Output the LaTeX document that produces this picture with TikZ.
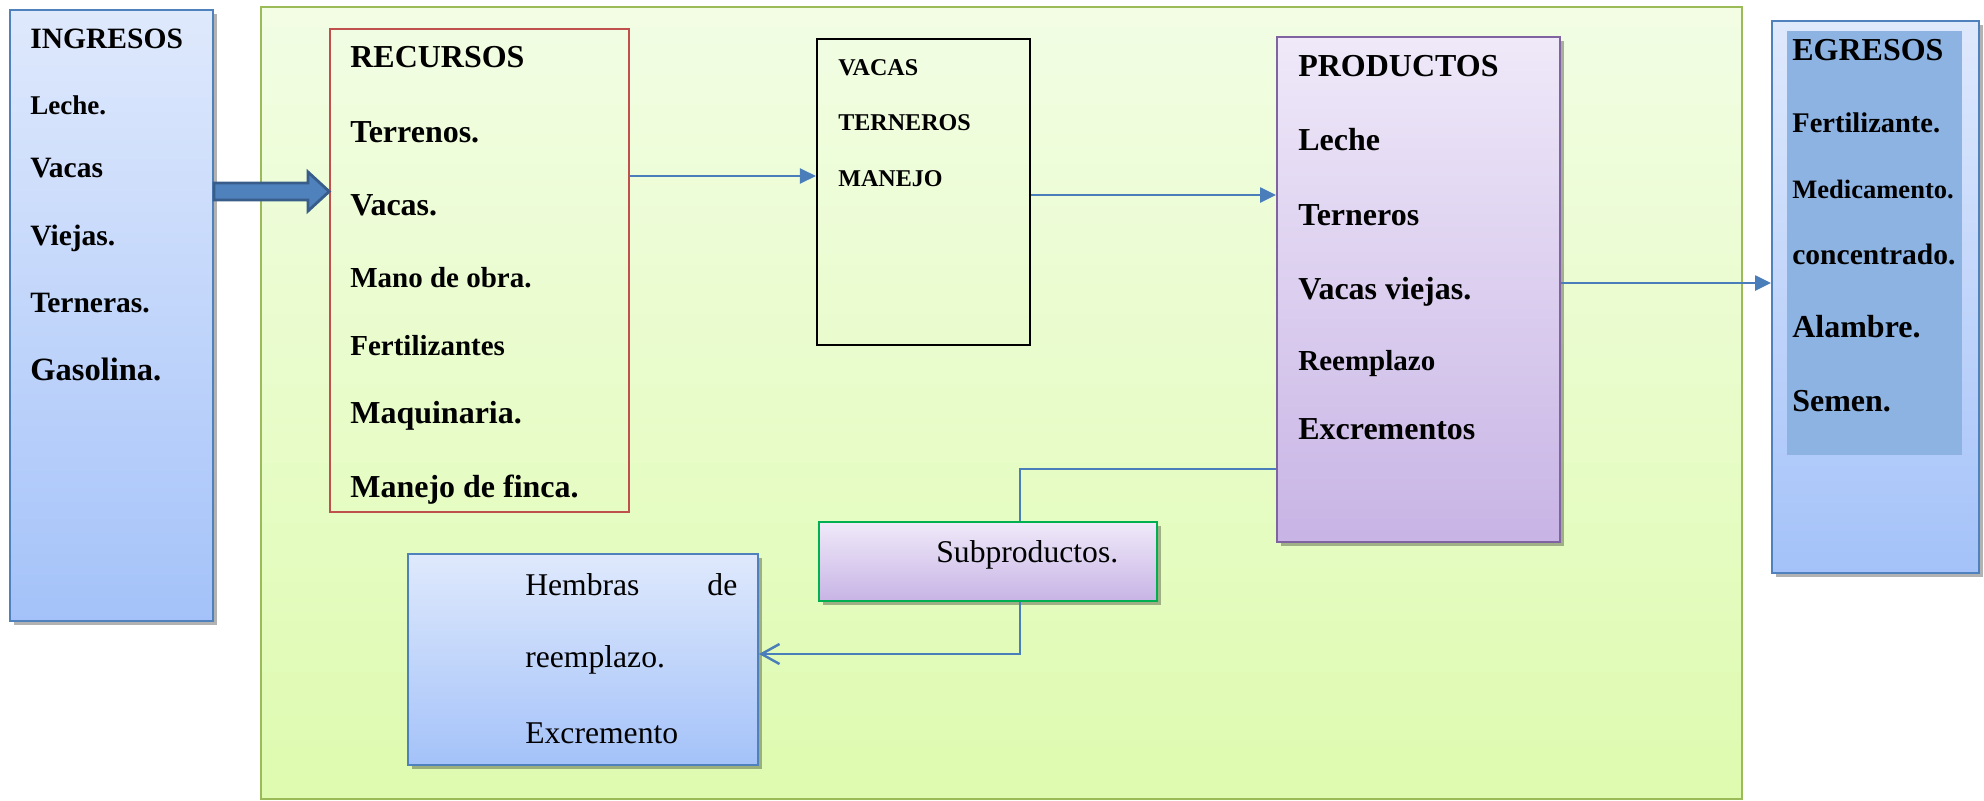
\documentclass[tikz,border=0pt]{standalone}
\usepackage{fontspec}
\setmainfont{Liberation Serif}
\usetikzlibrary{arrows.meta,shadows}

\definecolor{azulborde}{HTML}{4F81BD}
\definecolor{azulclaro}{HTML}{DFE9FC}
\definecolor{azulfondo}{HTML}{A4C2F9}
\definecolor{azulinterior}{HTML}{8DB3E2}
\definecolor{verdeborde}{HTML}{9BBB59}
\definecolor{verdearriba}{HTML}{F2FDE4}
\definecolor{verdeabajo}{HTML}{DEFBAF}
\definecolor{rojoborde}{HTML}{C0504D}
\definecolor{moradoborde}{HTML}{8064A2}
\definecolor{moradoarriba}{HTML}{EFE9F9}
\definecolor{moradoabajo}{HTML}{C8B4E5}
\definecolor{verdesub}{HTML}{00B050}
\definecolor{flechaazul}{HTML}{4A7EBB}
\definecolor{flechaborde}{HTML}{385D8A}

\begin{document}
\begin{tikzpicture}[
  sombra/.style={drop shadow={shadow xshift=0.07cm, shadow yshift=-0.07cm, fill=black, opacity=0.3}},
  cajaazul/.style={draw=azulborde, line width=1.1pt, top color=azulclaro, bottom color=azulfondo, sombra},
  cajamorada/.style={line width=1.1pt, top color=moradoarriba, bottom color=moradoabajo, sombra},
  flecha/.style={draw=flechaazul, line width=1.4pt, -{Triangle[length=0.32cm, width=0.3cm]}},
  linea/.style={draw=flechaazul, line width=1.4pt},
  bloque/.style={fill=azulborde, draw=flechaborde, line width=1.6pt, line join=miter},
  rotulo/.style={anchor=west, inner sep=0pt, text height=0.4cm, text depth=0pt},
  neg/.style={rotulo, font=\fontsize{18.2pt}{21pt}\selectfont\bfseries},
  negm/.style={rotulo, font=\fontsize{16.5pt}{19pt}\selectfont\bfseries},
  negp/.style={rotulo, font=\fontsize{15.1pt}{18pt}\selectfont\bfseries},
  negc/.style={rotulo, font=\fontsize{13.7pt}{16pt}\selectfont\bfseries},
  texto/.style={rotulo, font=\fontsize{18pt}{21pt}\selectfont},
]
  \useasboundingbox (0,0) rectangle (39.68,-16.02);

  % Marco verde
  \node[draw=verdeborde, line width=1.1pt, top color=verdearriba, bottom color=verdeabajo,
        minimum width=29.62cm, minimum height=15.84cm] (marco) at (20.03,-8.06) {};

  % Cajas
  \node[cajaazul, minimum width=4.06cm, minimum height=12.22cm] (ing) at (2.23,-6.31) {};
  \node[draw=rojoborde, line width=0.9pt, minimum width=5.98cm, minimum height=9.66cm] (rec) at (9.59,-5.41) {};
  \node[draw=black, line width=1.2pt, minimum width=4.26cm, minimum height=6.12cm] (proc) at (18.47,-3.84) {};
  \node[cajamorada, draw=moradoborde, minimum width=5.66cm, minimum height=10.1cm] (prod) at (28.37,-5.79) {};
  \node[cajaazul, minimum width=4.14cm, minimum height=11.04cm] (egr) at (37.51,-5.94) {};
  \node[fill=azulinterior, minimum width=3.5cm, minimum height=8.48cm] (egrin) at (37.49,-4.86) {};
  \node[cajamorada, draw=verdesub, minimum width=6.76cm, minimum height=1.58cm] (subp) at (19.76,-11.23) {};
  \node[cajaazul, minimum width=7.0cm, minimum height=4.22cm] (hemb) at (11.66,-13.19) {};

  % Conectores
  \filldraw[bloque] (ing.east |- 0,-3.66) -- (6.16,-3.66) -- (6.16,-3.44) -- (rec.west |- 0,-3.83)
    -- (6.16,-4.22) -- (6.16,-4.0) -- (ing.east |- 0,-4.0) -- cycle;
  \draw[flecha] (rec.east |- 0,-3.52) -- (proc.west |- 0,-3.52);
  \draw[flecha] (proc.east |- 0,-3.9) -- (prod.west |- 0,-3.9);
  \draw[flecha] (prod.east |- 0,-5.66) -- (egr.west |- 0,-5.66);
  \coordinate (codo) at (20.4,-9.38);
  \draw[linea] (prod.west |- codo) -- (codo) -- (codo |- subp.north);
  \draw[linea, -{Straight Barb[length=0.36cm, width=0.4cm]}] (codo |- subp.south) |- (hemb.east |- 0,-13.08);

  % Ingresos
  \node[rotulo, font=\fontsize{16.8pt}{20pt}\selectfont\bfseries] at (0.6,-0.76) {INGRESOS};
  \node[rotulo, font=\fontsize{15.4pt}{18pt}\selectfont\bfseries] at (0.6,-2.08) {Leche.};
  \node[rotulo, font=\fontsize{16.8pt}{19pt}\selectfont\bfseries] at (0.6,-3.34) {Vacas};
  \node[rotulo, font=\fontsize{16.8pt}{19pt}\selectfont\bfseries] at (0.6,-4.70) {Viejas.};
  \node[rotulo, font=\fontsize{16.8pt}{19pt}\selectfont\bfseries] at (0.6,-6.04) {Terneras.};
  \node[rotulo, font=\fontsize{18.5pt}{21pt}\selectfont\bfseries] at (0.6,-7.40) {Gasolina.};

  % Recursos
  \node[neg] at (7.0,-1.14) {RECURSOS};
  \node[neg] at (7.0,-2.64) {Terrenos.};
  \node[neg] at (7.0,-4.10) {Vacas.};
  \node[negm] at (7.0,-5.54) {Mano de obra.};
  \node[negm] at (7.0,-6.90) {Fertilizantes};
  \node[neg] at (7.0,-8.26) {Maquinaria.};
  \node[neg] at (7.0,-9.74) {Manejo de finca.};

  % Proceso
  \node[negc] at (16.76,-1.30) {VACAS};
  \node[negc] at (16.76,-2.40) {TERNEROS};
  \node[negc] at (16.76,-3.52) {MANEJO};

  % Productos
  \node[neg] at (25.96,-1.32) {PRODUCTOS};
  \node[neg] at (25.96,-2.80) {Leche};
  \node[neg] at (25.96,-4.30) {Terneros};
  \node[neg] at (25.96,-5.78) {Vacas viejas.};
  \node[negm] at (25.96,-7.20) {Reemplazo};
  \node[neg] at (25.96,-8.58) {Excrementos};

  % Egresos
  \node[neg] at (35.84,-1.00) {EGRESOS};
  \node[rotulo, font=\fontsize{16.2pt}{19pt}\selectfont\bfseries] at (35.84,-2.44) {Fertilizante.};
  \node[negp] at (35.84,-3.76) {Medicamento.};
  \node[rotulo, font=\fontsize{16.8pt}{19pt}\selectfont\bfseries] at (35.84,-5.08) {concentrado.};
  \node[neg] at (35.84,-6.54) {Alambre.};
  \node[neg] at (35.84,-8.02) {Semen.};

  % Subproductos y hembras
  \node[texto] at (18.72,-11.04) {Subproductos.};
  \node[texto, text width=4.24cm] at (10.5,-11.70) {Hembras\hfill de};
  \node[texto] at (10.5,-13.15) {reemplazo.};
  \node[texto] at (10.5,-14.66) {Excremento};
\end{tikzpicture}
\end{document}
